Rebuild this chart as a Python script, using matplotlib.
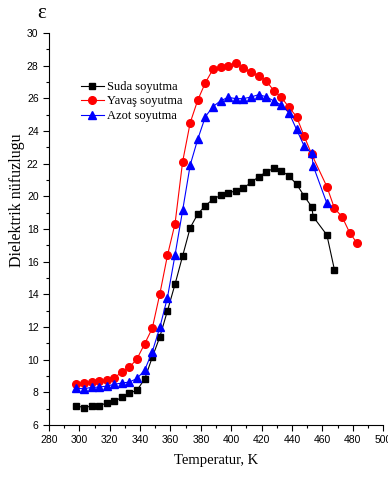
import matplotlib.pyplot as plt
from matplotlib.ticker import MultipleLocator

# Suda soyutma (black squares)
t_suda = [298, 303, 308, 313, 318, 323, 328, 333, 338, 343, 348, 353, 358, 363, 368,
          373, 378, 383, 388, 393, 398, 403, 408, 413, 418, 423, 428, 433, 438, 443,
          448, 453, 454, 463, 468]
e_suda = [7.18, 7.06, 7.16, 7.16, 7.36, 7.45, 7.69, 7.94, 8.14, 8.81, 10.14, 11.4, 12.99, 14.62, 16.35,
          18.08, 18.92, 19.43, 19.82, 20.06, 20.2, 20.34, 20.5, 20.85, 21.19, 21.49, 21.71, 21.57, 21.24, 20.75,
          20.02, 19.36, 18.75, 17.63, 15.49]

# Yavas soyutma (red circles)
t_yavas = [298, 303, 308, 313, 318, 323, 328, 333, 338, 343, 348, 353, 358, 363, 368,
           373, 378, 383, 388, 393, 398, 403, 408, 413, 418, 423, 428, 433, 438, 443,
           448, 453, 463, 468, 473, 478, 483]
e_yavas = [8.53, 8.59, 8.63, 8.67, 8.73, 8.89, 9.24, 9.53, 10.06, 10.97, 11.92, 14.03, 16.38, 18.33, 22.12,
           24.51, 25.9, 26.96, 27.78, 27.9, 27.98, 28.18, 27.84, 27.6, 27.39, 27.08, 26.47, 26.06, 25.45, 24.88,
           23.69, 22.57, 20.59, 19.26, 18.75, 17.77, 17.12]

# Azot soyutma (blue triangles)
t_azot = [298, 303, 308, 313, 318, 323, 328, 333, 338, 343, 348, 353, 358, 363, 368,
          373, 378, 383, 388, 393, 398, 403, 408, 413, 418, 423, 428, 433, 438, 443,
          448, 453, 454, 463]
e_azot = [8.24, 8.22, 8.3, 8.32, 8.38, 8.49, 8.57, 8.63, 8.85, 9.36, 10.48, 11.98, 13.8, 16.41, 19.14,
          21.92, 23.51, 24.88, 25.49, 25.85, 26.06, 25.98, 25.98, 26.08, 26.22, 26.1, 25.84, 25.59, 25.12, 24.1,
          23.08, 22.63, 21.86, 19.57]

serif = 'Liberation Serif'
sans = 'Liberation Sans'

fig = plt.figure(figsize=(3.88, 4.82), dpi=100)
ax = fig.add_axes([0.1263, 0.1183, 0.861, 0.8133])

ax.plot(t_suda, e_suda, color='k', lw=0.8, marker='s', ms=5, label='Suda soyutma')
ax.plot(t_yavas, e_yavas, color='red', lw=0.8, marker='o', ms=5.5, label='Yavaş soyutma')
ax.plot(t_azot, e_azot, color='blue', lw=0.8, marker='^', ms=6, label='Azot soyutma')

ax.set_xlim(280, 500)
ax.set_ylim(6, 30)
ax.xaxis.set_major_locator(MultipleLocator(20))
ax.xaxis.set_minor_locator(MultipleLocator(10))
ax.yaxis.set_major_locator(MultipleLocator(2))
ax.yaxis.set_minor_locator(MultipleLocator(1))
ax.spines['top'].set_visible(False)
ax.spines['right'].set_visible(False)
ax.tick_params(which='major', direction='out', length=4, width=0.8, labelsize=7.5)
ax.tick_params(which='minor', direction='out', length=2.5, width=0.8)
for lab in ax.get_xticklabels() + ax.get_yticklabels():
    lab.set_family(sans)

ax.set_xlabel('Temperatur, K', family=serif, fontsize=10.5, labelpad=6)
fig.text(0.045, 0.585, 'Dielektrik nüfuzlugu', family=serif, fontsize=11.5,
         rotation=90, ha='center', va='center')
fig.text(0.108, 0.972, 'ε', family=serif, fontsize=15, ha='center', va='center')

leg = ax.legend(loc='upper left', bbox_to_anchor=(0.07, 0.9), frameon=False,
                prop={'family': serif, 'size': 9}, handlelength=1.8,
                handletextpad=0.3, labelspacing=0.2, borderpad=0.2)

fig.savefig('out.png', dpi=100)
